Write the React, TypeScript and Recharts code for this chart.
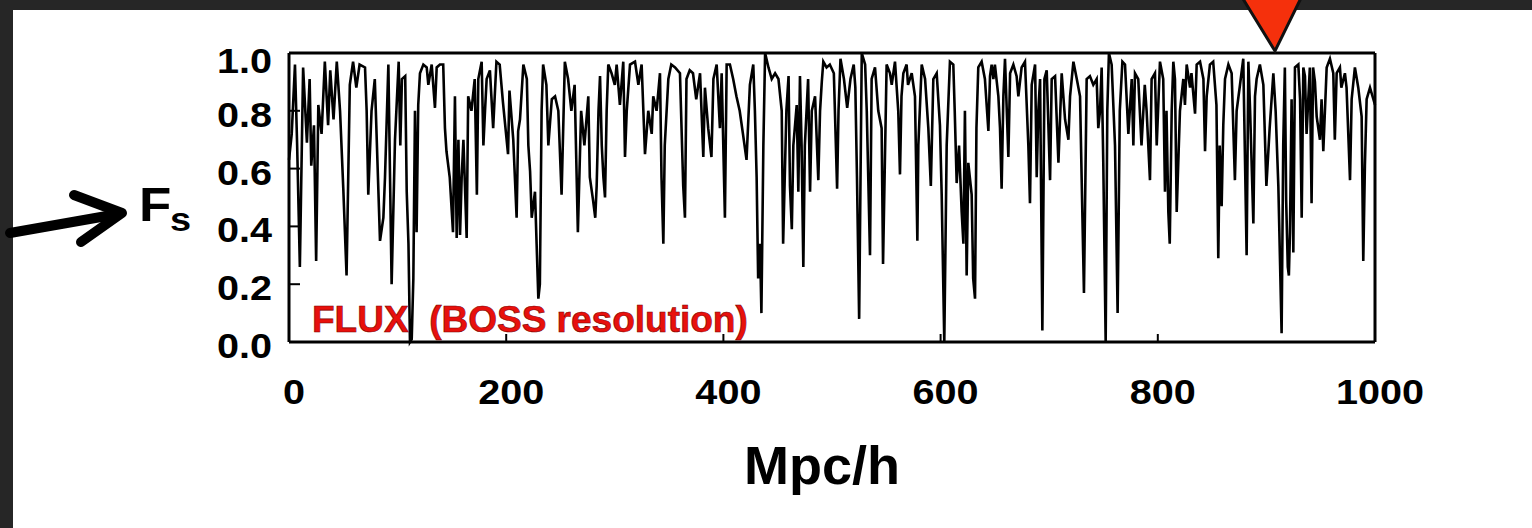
import React from "react";
import { LineChart, Line, XAxis, YAxis } from "recharts";

// Mpc/h positions and transmitted flux
const positions: number[] = [
  0, 2.5, 5.5, 7.5, 10, 13, 16.5, 19, 20.5, 23, 25, 27, 30, 33, 36, 38, 41, 44, 47, 50, 53, 56, 59, 62, 65, 70, 71.5, 73, 76, 79, 83.8, 86.9,
  88.4, 91.5, 94.5, 97.6, 101, 102.5, 104, 107, 108.4, 110, 111.4, 113, 114.5, 116, 117.5, 119, 120.6, 123.7, 126.8, 128.3, 131.4, 134.4, 136, 139, 142, 143.6, 145, 148, 151, 152.8, 154.4, 156, 157.5, 159, 160.6, 163.6, 165, 168, 171, 173, 174.3, 177.4, 179,
  180.5, 182, 185, 188, 191, 194, 197, 201.7, 203, 206.5, 209.6, 211, 212.7, 215.8, 219, 220.4, 222, 223.5, 226.5, 228, 229.6, 231, 232.6, 234, 237, 238.8, 242, 245, 248, 251, 254, 257, 260, 263, 266, 269, 272,
  275.6, 277, 280, 282, 283.3, 285, 286.4, 288, 289.5, 291, 292.5, 294, 297, 300, 301.7, 304.7, 307.8, 309.4, 311, 314, 318.6, 321.7, 324.7, 327.8, 330.8, 334, 335.4, 338.5, 341.6, 343, 344.7, 346, 349.3, 352, 355.5, 360, 363,
  364.6, 366, 369, 372, 375, 378.5, 381.5, 383, 386, 389, 390.8, 393.8, 396.8, 398.4, 401.4, 403, 406, 409, 412, 415, 418, 421.3, 424.4, 427.5, 429, 430.6, 432, 433.7, 435, 436.8, 438.4, 441.5, 444.5, 447.6, 450.7, 453.7, 455,
  458, 460, 461.3, 463, 464.4, 467.5, 469, 470.5, 472, 473.6, 475, 478, 479.8, 481.4, 484.4, 487.4, 489, 490.6, 492, 495, 498, 501.7, 504.7, 506, 507.8, 511, 514, 517, 520, 521.5, 523, 525, 527.4, 530.5, 532, 535, 536.5, 539.6, 542.6, 545.7, 547,
  550.3, 553.4, 555, 558, 561, 562.6, 564, 565.7, 568.7, 570, 573.4, 576.4, 578.6, 579.5, 582.6, 585.7, 588.7, 591, 593.3, 596.4, 599.4, 601, 603.4, 605.6, 608.6, 611.7, 613, 614.8, 617, 619.4, 621, 622.4, 624, 625.5, 628.6, 630, 631.7, 633, 634.7, 637.8, 640.8,
  644, 645.5, 647, 648.6, 650, 653.2, 654.7, 656.2, 657.8, 659.3, 662.4, 664, 667, 670, 671.6, 674.6, 677.7, 680.8, 682.3, 683.9, 687, 688.5, 690, 691.6, 693.7, 695.6, 697.7, 700.8, 702.3, 705.4, 708.5, 711.5, 714.6, 717.7, 719.2, 722.3, 725.4, 728.4, 730.5, 732,
  734.5, 737.5, 740.6, 743.7, 745.2, 746.8, 748.3, 749.8, 752, 753.5, 755, 757.5, 760.6, 763, 765, 767.4, 769.8, 772.9, 776, 777.5, 779, 782, 785, 788, 789.7, 792.8, 794.3, 797.4, 799, 802, 805, 806.6, 808, 809.7, 811, 812.8, 814.3, 815.8, 817.4, 820.4, 823.5,
  825, 826.6, 829.7, 831, 834.3, 835.8, 838.9, 842, 843.5, 845, 848, 851, 854, 855.7, 857, 858.8, 860.3, 861.9, 865, 868, 871, 872.6, 875.7, 878.7, 881.8, 883.4, 885, 888, 889.5, 891, 894, 897.2, 900, 903, 906.4, 908.5, 911, 914, 915.5,
  917, 918.2, 919.7, 920.7, 921.7, 923.2, 924.8, 926.3, 929.4, 931, 932.5, 934, 935.5, 937, 940, 941.6, 943, 944.7, 946.3, 949.3, 950.8, 952.4, 955.5, 958.5, 961.6, 963, 964.7, 967.7, 969, 972.3, 973.8, 977, 978.5, 981.5, 984.6, 987.7, 989.2, 990.7, 992.3, 995.4, 998.5, 1000,
];

const flux: number[] = [
  0.63, 0.72, 0.96, 0.68, 0.26, 0.95, 0.69, 0.91, 0.61, 0.75, 0.28, 0.82, 0.72, 0.97, 0.75, 0.94, 0.77, 0.97, 0.8, 0.53, 0.23, 0.89, 0.97, 0.88, 0.96, 0.95, 0.8, 0.51, 0.8, 0.91, 0.35, 0.43,
  0.57, 0.96, 0.2, 0.7, 0.97, 0.68, 0.91, 0.92, 0.52, 0.34, 0.0, 0.01, 0.22, 0.8, 0.38, 0.82, 0.93, 0.96, 0.95, 0.89, 0.96, 0.81, 0.95, 0.96, 0.96, 0.74, 0.66, 0.57, 0.38, 0.85, 0.36, 0.7, 0.37, 0.57, 0.7, 0.36, 0.85, 0.8, 0.91, 0.51, 0.91, 0.97, 0.68,
  0.8, 0.91, 0.94, 0.74, 0.97, 0.96, 0.83, 0.65, 0.87, 0.7, 0.43, 0.73, 0.77, 0.96, 0.91, 0.68, 0.59, 0.43, 0.52, 0.34, 0.15, 0.2, 0.8, 0.96, 0.89, 0.68, 0.84, 0.85, 0.8, 0.51, 0.97, 0.91, 0.8, 0.89, 0.38, 0.8, 0.68,
  0.85, 0.57, 0.49, 0.43, 0.54, 0.8, 0.92, 0.68, 0.57, 0.5, 0.8, 0.96, 0.93, 0.89, 0.96, 0.82, 0.97, 0.64, 0.8, 0.96, 0.97, 0.89, 0.96, 0.65, 0.8, 0.72, 0.85, 0.8, 0.93, 0.57, 0.34, 0.68, 0.91, 0.96, 0.95, 0.93, 0.54,
  0.43, 0.91, 0.94, 0.93, 0.84, 0.93, 0.64, 0.88, 0.74, 0.64, 0.91, 0.96, 0.74, 0.93, 0.43, 0.96, 0.96, 0.91, 0.85, 0.8, 0.72, 0.63, 0.89, 0.96, 0.8, 0.57, 0.22, 0.34, 0.1, 0.68, 1.0, 0.95, 0.91, 0.93, 0.91, 0.8, 0.34,
  0.8, 0.92, 0.54, 0.39, 0.68, 0.82, 0.52, 0.92, 0.68, 0.26, 0.68, 0.91, 0.52, 0.8, 0.85, 0.56, 0.8, 0.9, 0.97, 0.95, 0.96, 0.93, 0.53, 0.8, 0.98, 0.91, 0.81, 0.91, 0.96, 0.88, 0.57, 0.08, 1.0, 0.96, 0.8, 0.3, 0.91, 0.95, 0.8, 0.74, 0.27,
  0.96, 0.93, 0.89, 0.97, 0.8, 0.58, 0.85, 0.93, 0.96, 0.89, 0.93, 0.85, 0.35, 0.68, 0.96, 0.91, 0.74, 0.54, 0.91, 0.93, 0.75, 0.51, 0.0, 0.68, 0.97, 0.96, 0.8, 0.55, 0.68, 0.45, 0.34, 0.8, 0.23, 0.62, 0.51, 0.22, 0.15, 0.74, 0.95, 0.97, 0.91,
  0.73, 0.92, 0.96, 0.91, 0.96, 0.85, 0.74, 0.53, 0.85, 0.98, 0.64, 0.93, 0.96, 0.92, 0.85, 0.95, 0.97, 0.68, 0.48, 0.89, 0.96, 0.57, 0.8, 0.91, 0.04, 0.91, 0.94, 0.56, 0.91, 0.92, 0.62, 0.93, 0.77, 0.7, 0.85, 0.97, 0.91, 0.85, 0.45, 0.17,
  0.91, 0.92, 0.89, 0.91, 0.74, 0.8, 0.95, 0.62, 0.0, 0.8, 1.0, 0.96, 0.68, 0.1, 0.8, 0.97, 0.96, 0.72, 0.91, 0.68, 0.93, 0.91, 0.68, 0.89, 0.8, 0.56, 0.91, 0.93, 0.68, 0.97, 0.91, 0.52, 0.8, 0.45, 0.34, 0.8, 0.97, 0.91, 0.45, 0.8, 0.91,
  0.82, 0.96, 0.88, 0.93, 0.79, 0.96, 0.97, 0.91, 0.66, 0.85, 0.96, 0.97, 0.82, 0.29, 0.68, 0.47, 0.75, 0.91, 0.96, 0.93, 0.56, 0.8, 0.89, 0.98, 0.3, 0.97, 0.8, 0.41, 0.85, 0.91, 0.96, 0.89, 0.54, 0.74, 0.93, 0.8, 0.54, 0.03, 0.68,
  0.95, 0.49, 0.26, 0.23, 0.38, 0.84, 0.31, 0.95, 0.96, 0.84, 0.43, 0.95, 0.92, 0.72, 0.95, 0.48, 0.95, 0.9, 0.78, 0.7, 0.84, 0.66, 0.95, 0.98, 0.93, 0.7, 0.93, 0.95, 0.88, 0.93, 0.88, 0.56, 0.84, 0.95, 0.88, 0.78, 0.28, 0.61, 0.84, 0.88, 0.84, 0.82,
];

const xTicks: number[] = [0, 200, 400, 600, 800, 1000];
const yTicks: number[] = [0, 0.2, 0.4, 0.6, 0.8, 1.0];

const data = positions.map((x, i) => ({ x, flux: flux[i] }));

const FONT = "'Liberation Sans', Arial, Helvetica, sans-serif";

const YTick = (props: any) => {
  const { x, y, payload } = props;
  const extra = payload.value >= 1 ? 7 : 3;
  return (
    <text
      transform={`translate(${x - 17},${y + 13 + extra}) scale(1.1,1)`}
      textAnchor="end"
      fontSize={36}
      fontWeight="bold"
      fontFamily={FONT}
      fill="#000"
    >
      {Number(payload.value).toFixed(1)}
    </text>
  );
};

const XTick = (props: any) => {
  const { x, y, payload } = props;
  return (
    <text
      transform={`translate(${x + 5},${y + 62}) scale(1.1,1)`}
      textAnchor="middle"
      fontSize={36}
      fontWeight="bold"
      fontFamily={FONT}
      fill="#000"
    >
      {payload.value}
    </text>
  );
};

export default function App() {
  return (
    <div style={{ position: "absolute", left: 0, top: 0, width: 1532, height: 528, background: "#262626", overflow: "hidden" }}>
      <div style={{ position: "absolute", left: 13, top: 10, width: 1519, height: 518, background: "#ffffff" }} />
      <div style={{ position: "absolute", left: 0, top: 0 }}>
        <LineChart width={1532} height={528} data={data} margin={{ top: 52, right: 156, bottom: 156, left: 229 }}>
          <XAxis
            xAxisId="b"
            dataKey="x"
            type="number"
            domain={[0, 1000]}
            ticks={xTicks}
            height={30}
            tickSize={-8}
            tickMargin={8}
            axisLine={{ stroke: "#000", strokeWidth: 3 }}
            tickLine={{ stroke: "#000", strokeWidth: 2 }}
            tick={<XTick />}
            interval={0}
          />
          <XAxis
            xAxisId="t"
            orientation="top"
            dataKey="x"
            type="number"
            domain={[0, 1000]}
            ticks={xTicks}
            height={1}
            tickSize={-8}
            axisLine={{ stroke: "#000", strokeWidth: 3 }}
            tickLine={{ stroke: "#000", strokeWidth: 2 }}
            tick={false}
            interval={0}
          />
          <YAxis
            yAxisId="l"
            type="number"
            domain={[0, 1]}
            ticks={yTicks}
            width={60}
            tickSize={-11}
            tickMargin={11}
            axisLine={{ stroke: "#000", strokeWidth: 3 }}
            tickLine={{ stroke: "#000", strokeWidth: 2 }}
            tick={<YTick />}
            interval={0}
          />
          <YAxis
            yAxisId="r"
            orientation="right"
            type="number"
            domain={[0, 1]}
            ticks={yTicks}
            width={1}
            tickSize={-10}
            axisLine={{ stroke: "#000", strokeWidth: 3 }}
            tickLine={{ stroke: "#000", strokeWidth: 2 }}
            tick={false}
            interval={0}
          />
          <Line
            xAxisId="b"
            yAxisId="l"
            type="linear"
            dataKey="flux"
            stroke="#000"
            strokeWidth={2.6}
            dot={false}
            isAnimationActive={false}
          />
        </LineChart>
      </div>
      <svg width={1532} height={528} style={{ position: "absolute", left: 0, top: 0, pointerEvents: "none" }}>
        <polygon points="1240,-6 1303,-6 1275,51" fill="#f5300c" stroke="#111" strokeWidth={3} strokeLinejoin="miter" />
        <line x1={10} y1={233} x2={118} y2={214} stroke="#000" strokeWidth={10} strokeLinecap="round" />
        <polyline points="74,195 122,213 81,242" fill="none" stroke="#000" strokeWidth={10} strokeLinecap="round" strokeLinejoin="round" />
        <text transform="translate(139,221) scale(1.08,1)" fontSize={49} fontWeight="bold" fontFamily={FONT} fill="#000">F</text>
        <text transform="translate(170,231) scale(1.15,1)" fontSize={33} fontWeight="bold" fontFamily={FONT} fill="#000">s</text>
        <text x={312} y={332} fontSize={37} fontWeight="bold" fontFamily={FONT} fill="#e8100c" stroke="#7a0000" strokeWidth={0.6} style={{ whiteSpace: "pre" }}>
          {"FLUX  (BOSS resolution)"}
        </text>
        <text x={822} y={484} textAnchor="middle" fontSize={54} fontWeight="bold" fontFamily={FONT} fill="#000">Mpc/h</text>
      </svg>
    </div>
  );
}
